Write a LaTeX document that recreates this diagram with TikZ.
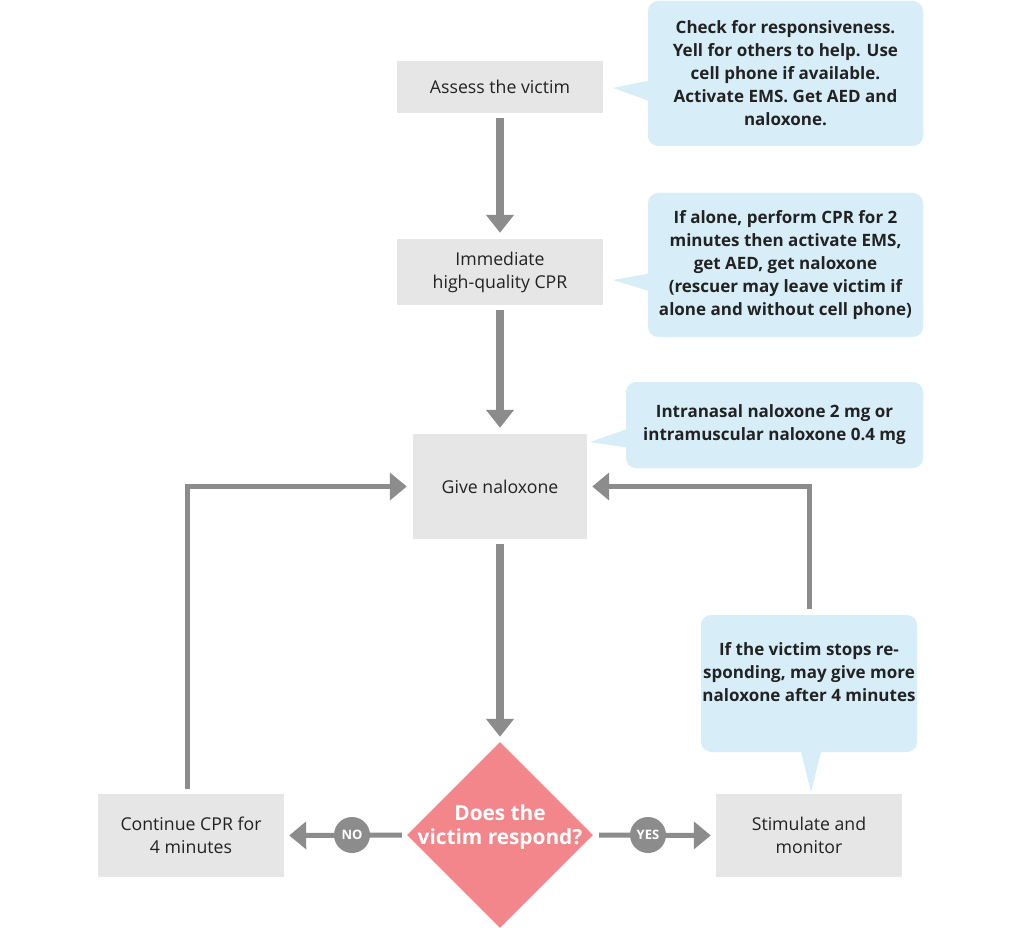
\documentclass[tikz,border=0pt]{standalone}
\usepackage{fontspec}
\setmainfont{Open Sans}
\usetikzlibrary{arrows.meta,shapes.geometric}
\definecolor{boxgray}{HTML}{E6E6E6}
\definecolor{callblue}{HTML}{D7EEF9}
\definecolor{arrgray}{HTML}{8C8C8C}
\definecolor{decred}{HTML}{F2868B}
\definecolor{txt}{HTML}{222222}
\begin{document}
\begin{tikzpicture}[x=1pt,y=-1pt,
  box/.style={fill=boxgray, text=txt, align=center, inner sep=0pt, font=\fontsize{17.7}{23}\selectfont},
  callout/.style={fill=callblue, rounded corners=10pt, text=txt, align=center, inner sep=0pt, font=\bfseries\fontsize{17}{23}\selectfont},
  mainarrow/.style={draw=arrgray, line width=8pt, -{Triangle[length=18pt,width=27pt]}, shorten <=5pt, shorten >=6pt},
  thinarrow/.style={draw=arrgray, line width=5pt, -{Triangle[length=17pt,width=27pt]}},
  badge/.style={circle, fill=arrgray, minimum size=36pt, inner sep=0pt, text=white, font=\bfseries\fontsize{13}{15}\selectfont},
  dectext/.style={text=white, align=center, inner sep=0pt, font=\bfseries\fontsize{20.8}{23.5}\selectfont}]
\useasboundingbox (0,0) rectangle (1020,928);
\fill[white] (0,0) rectangle (1020,928);

% main boxes
\node[box, minimum width=206pt, minimum height=52pt] (assess) at (500,87) {Assess the victim};
\node[box, minimum width=206pt, minimum height=66pt] (imm) at (500,272) {Immediate\\high-quality CPR};
\node[box, minimum width=174pt, minimum height=105pt] (give) at (500,486.5) {Give naloxone};
\node[box, minimum width=186pt, minimum height=83pt] (cont) at (191,835.5) {Continue CPR for\\4 minutes};
\node[box, minimum width=186pt, minimum height=83pt] (stim) at (809,835.5) {Stimulate and\\monitor};
\node[diamond, fill=decred, minimum width=186pt, minimum height=186pt, inner sep=0pt, aspect=1] (dec) at (500,835) {};
\node[dectext] (dect) at (500,827) {Does the\\victim respond?};

% callouts
\node[callout, minimum width=275pt, minimum height=145pt] (c1) at (785.5,73.5) {Check for responsiveness.\\Yell for others to help. Use\\cell phone if available.\\Activate EMS. Get AED and\\naloxone.};
\coordinate (t1) at (613,88);
\fill[callblue] (t1) -- (652,80) -- (652,102) -- cycle;

\node[callout, minimum width=275pt, minimum height=144pt] (c2) at (785.5,265) {If alone, perform CPR for 2\\minutes then activate EMS,\\get AED, get naloxone\\(rescuer may leave victim if\\alone and without cell phone)};
\coordinate (t2) at (613,280);
\fill[callblue] (t2) -- (652,273) -- (652,292) -- cycle;

\node[callout, minimum width=297pt, minimum height=86pt] (c3) at (774.5,425) {Intranasal naloxone 2 mg or\\intramuscular naloxone 0.4 mg};
\coordinate (t3) at (590,442);
\fill[callblue] (t3) -- (630,428) -- (630,448) -- cycle;

\node[callout, minimum width=216pt, minimum height=137pt] (c4) at (809,683.5) {If the victim stops re-\\sponding, may give more\\naloxone after 4 minutes\\\mbox{}};
\coordinate (t4) at (811,792);
\fill[callblue] (t4) -- (800,748) -- (822,748) -- cycle;

% connectors
\draw[mainarrow] (assess.south) -- (imm.north);
\draw[mainarrow] (imm.south) -- (give.north);
\draw[mainarrow, shorten >=5pt] (give.south) -- (dec.north);
\draw[thinarrow, shorten <=5pt, shorten >=5pt] (dec.west) -- (cont.east);
\draw[thinarrow, shorten <=6pt, shorten >=5pt] (dec.east) -- (stim.west);
\draw[thinarrow, shorten >=6pt] ([xshift=-4pt,yshift=5pt]cont.north) |- (give.west);
\draw[thinarrow, shorten >=5pt] ([yshift=6pt]c4.north) |- (give.east);

\node[badge] (no) at (352,835) {NO};
\node[badge] (yes) at (648,835) {YES};
\end{tikzpicture}
\end{document}
